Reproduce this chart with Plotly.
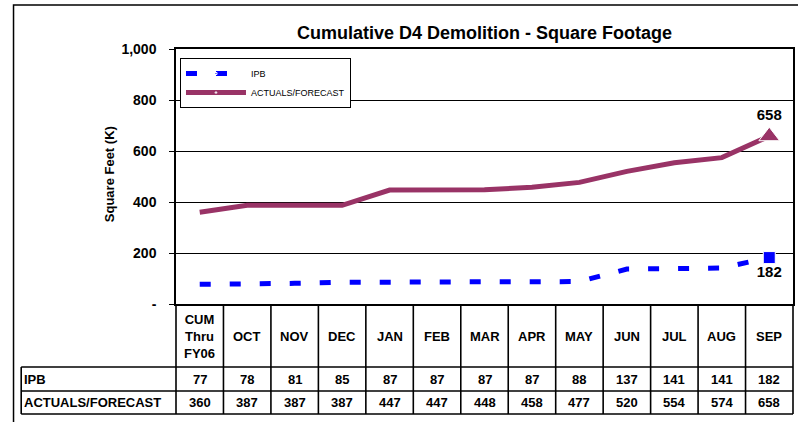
import plotly.graph_objects as go

# ---- data ----
categories = ["CUM<br>Thru<br>FY06", "OCT", "NOV", "DEC", "JAN", "FEB", "MAR",
              "APR", "MAY", "JUN", "JUL", "AUG", "SEP"]
ipb = [77, 78, 81, 85, 87, 87, 87, 87, 88, 137, 141, 141, 182]
actuals = [360, 387, 387, 387, 447, 447, 448, 458, 477, 520, 554, 574, 658]
series_names = ["IPB", "ACTUALS/FORECAST"]
y_tickvals = [0, 200, 400, 600, 800, 1000]
y_ticktext = ["-", "200", "400", "600", "800", "1,000"]
title_text = "Cumulative D4 Demolition - Square Footage"
y_title = "Square Feet (K)"

# ---- geometry helpers (pixels -> paper) ----
W, H = 798, 422
L, R, T, B = 176, 3, 49, 118
PW, PH = W - L - R, H - T - B
def px(x):
    return (x - L) / PW
def py(y):
    return (H - B - y) / PH

n = len(categories)
xs = list(range(n))
BLUE = "#0000FF"
MAROON = "#993366"
FONT = "Arial, Liberation Sans, sans-serif"

def last_only(vals, size):
    return [size if i == len(vals) - 1 else 0 for i in range(len(vals))]

fig = go.Figure()
fig.add_trace(go.Scatter(
    x=xs, y=ipb, name=series_names[0], mode="lines+markers+text",
    line=dict(color=BLUE, width=5, dash="11px,19px"),
    marker=dict(symbol="square", color=BLUE, size=last_only(ipb, 12), opacity=1),
    text=[str(v) if i == n - 1 else "" for i, v in enumerate(ipb)],
    textposition="bottom center",
    textfont=dict(family=FONT, size=15, color="black", weight="bold"),
    cliponaxis=False,
))
fig.add_trace(go.Scatter(
    x=xs, y=actuals, name=series_names[1], mode="lines+markers+text",
    line=dict(color=MAROON, width=5),
    marker=dict(symbol="triangle-up", color=MAROON, size=last_only(actuals, 18), opacity=1),
    text=[str(v) if i == n - 1 else "" for i, v in enumerate(actuals)],
    textposition="top center",
    textfont=dict(family=FONT, size=15, color="black", weight="bold"),
    cliponaxis=False,
))

shapes = []
ann = []
LINEW = 1.6
# outer frame
shapes.append(dict(type="rect", xref="paper", yref="paper",
                   x0=px(13), x1=px(830), y0=py(5), y1=py(440),
                   line=dict(color="black", width=1.5), layer="below"))

# table grid
col_w = PW / n
x_right = L + PW
top, r1, r2, bot = H - B, 367, 391, 414
lab_left = 20.7
for k in range(n + 1):
    xpix = L + col_w * k
    shapes.append(dict(type="line", xref="paper", yref="paper",
                       x0=px(xpix), x1=px(xpix), y0=py(top), y1=py(bot),
                       line=dict(color="black", width=LINEW)))
for ypix in (r1, r2, bot):
    shapes.append(dict(type="line", xref="paper", yref="paper",
                       x0=px(lab_left), x1=px(x_right), y0=py(ypix), y1=py(ypix),
                       line=dict(color="black", width=LINEW)))
shapes.append(dict(type="line", xref="paper", yref="paper",
                   x0=px(lab_left), x1=px(lab_left), y0=py(r1), y1=py(bot),
                   line=dict(color="black", width=LINEW)))

cell_font = dict(family=FONT, size=13, color="black", weight="bold")
for i, c in enumerate(categories):
    ann.append(dict(x=i, xref="x", y=py((top + r1) / 2 + 1), yref="paper",
                    text=c, showarrow=False, font=cell_font,
                    xanchor="center", yanchor="middle"))
for row_vals, ycen in ((ipb, (r1 + r2) / 2), (actuals, (r2 + bot) / 2)):
    for i, v in enumerate(row_vals):
        ann.append(dict(x=i, xref="x", y=py(ycen), yref="paper",
                        text=str(v), showarrow=False, font=cell_font,
                        xanchor="center", yanchor="middle"))
for name, ycen in zip(series_names, ((r1 + r2) / 2, (r2 + bot) / 2)):
    ann.append(dict(x=px(lab_left + 1), xref="paper", y=py(ycen), yref="paper",
                    text=name, showarrow=False, font=cell_font,
                    xanchor="left", yanchor="middle"))

# title and y-axis title
ann.append(dict(x=px(485), xref="paper", y=py(33), yref="paper", text=title_text,
                showarrow=False, xanchor="center", yanchor="middle",
                font=dict(family=FONT, size=18, color="black", weight="bold")))
ann.append(dict(x=px(109), xref="paper", y=py(174), yref="paper", text=y_title,
                showarrow=False, textangle=-90, xanchor="center", yanchor="middle",
                font=dict(family=FONT, size=13, color="black", weight="bold")))

fig.update_layout(
    width=W, height=H,
    margin=dict(l=L, r=R, t=T, b=B, pad=0),
    paper_bgcolor="white", plot_bgcolor="white",
    showlegend=True,
    legend=dict(x=px(180), y=py(58), xanchor="left", yanchor="top",
                bordercolor="black", borderwidth=1, bgcolor="white",
                font=dict(family="Liberation Sans Narrow, Arial Narrow, Arial", size=9, color="black"),
                tracegroupgap=0, itemwidth=60),
    shapes=shapes, annotations=ann,
)
fig.update_xaxes(range=[-0.5, n - 0.5], showticklabels=False, ticks="",
                 showgrid=False, zeroline=False, showline=True, mirror=True,
                 linecolor="black", linewidth=1.5, fixedrange=True)
fig.update_yaxes(range=[0, 1000], tickvals=y_tickvals, ticktext=y_ticktext,
                 ticks="outside", ticklen=5, tickcolor="black", tickwidth=1,
                 tickfont=dict(family=FONT, size=14, color="black", weight="bold"),
                 showgrid=True, gridcolor="black", gridwidth=1, zeroline=False,
                 showline=True, mirror=True, linecolor="black", linewidth=1.5,
                 ticklabelstandoff=10, fixedrange=True)

fig.write_html(
    "out.html",
    config={"displayModeBar": False},
    post_script="document.body.style.margin='0';document.body.style.overflow='hidden';",
)
